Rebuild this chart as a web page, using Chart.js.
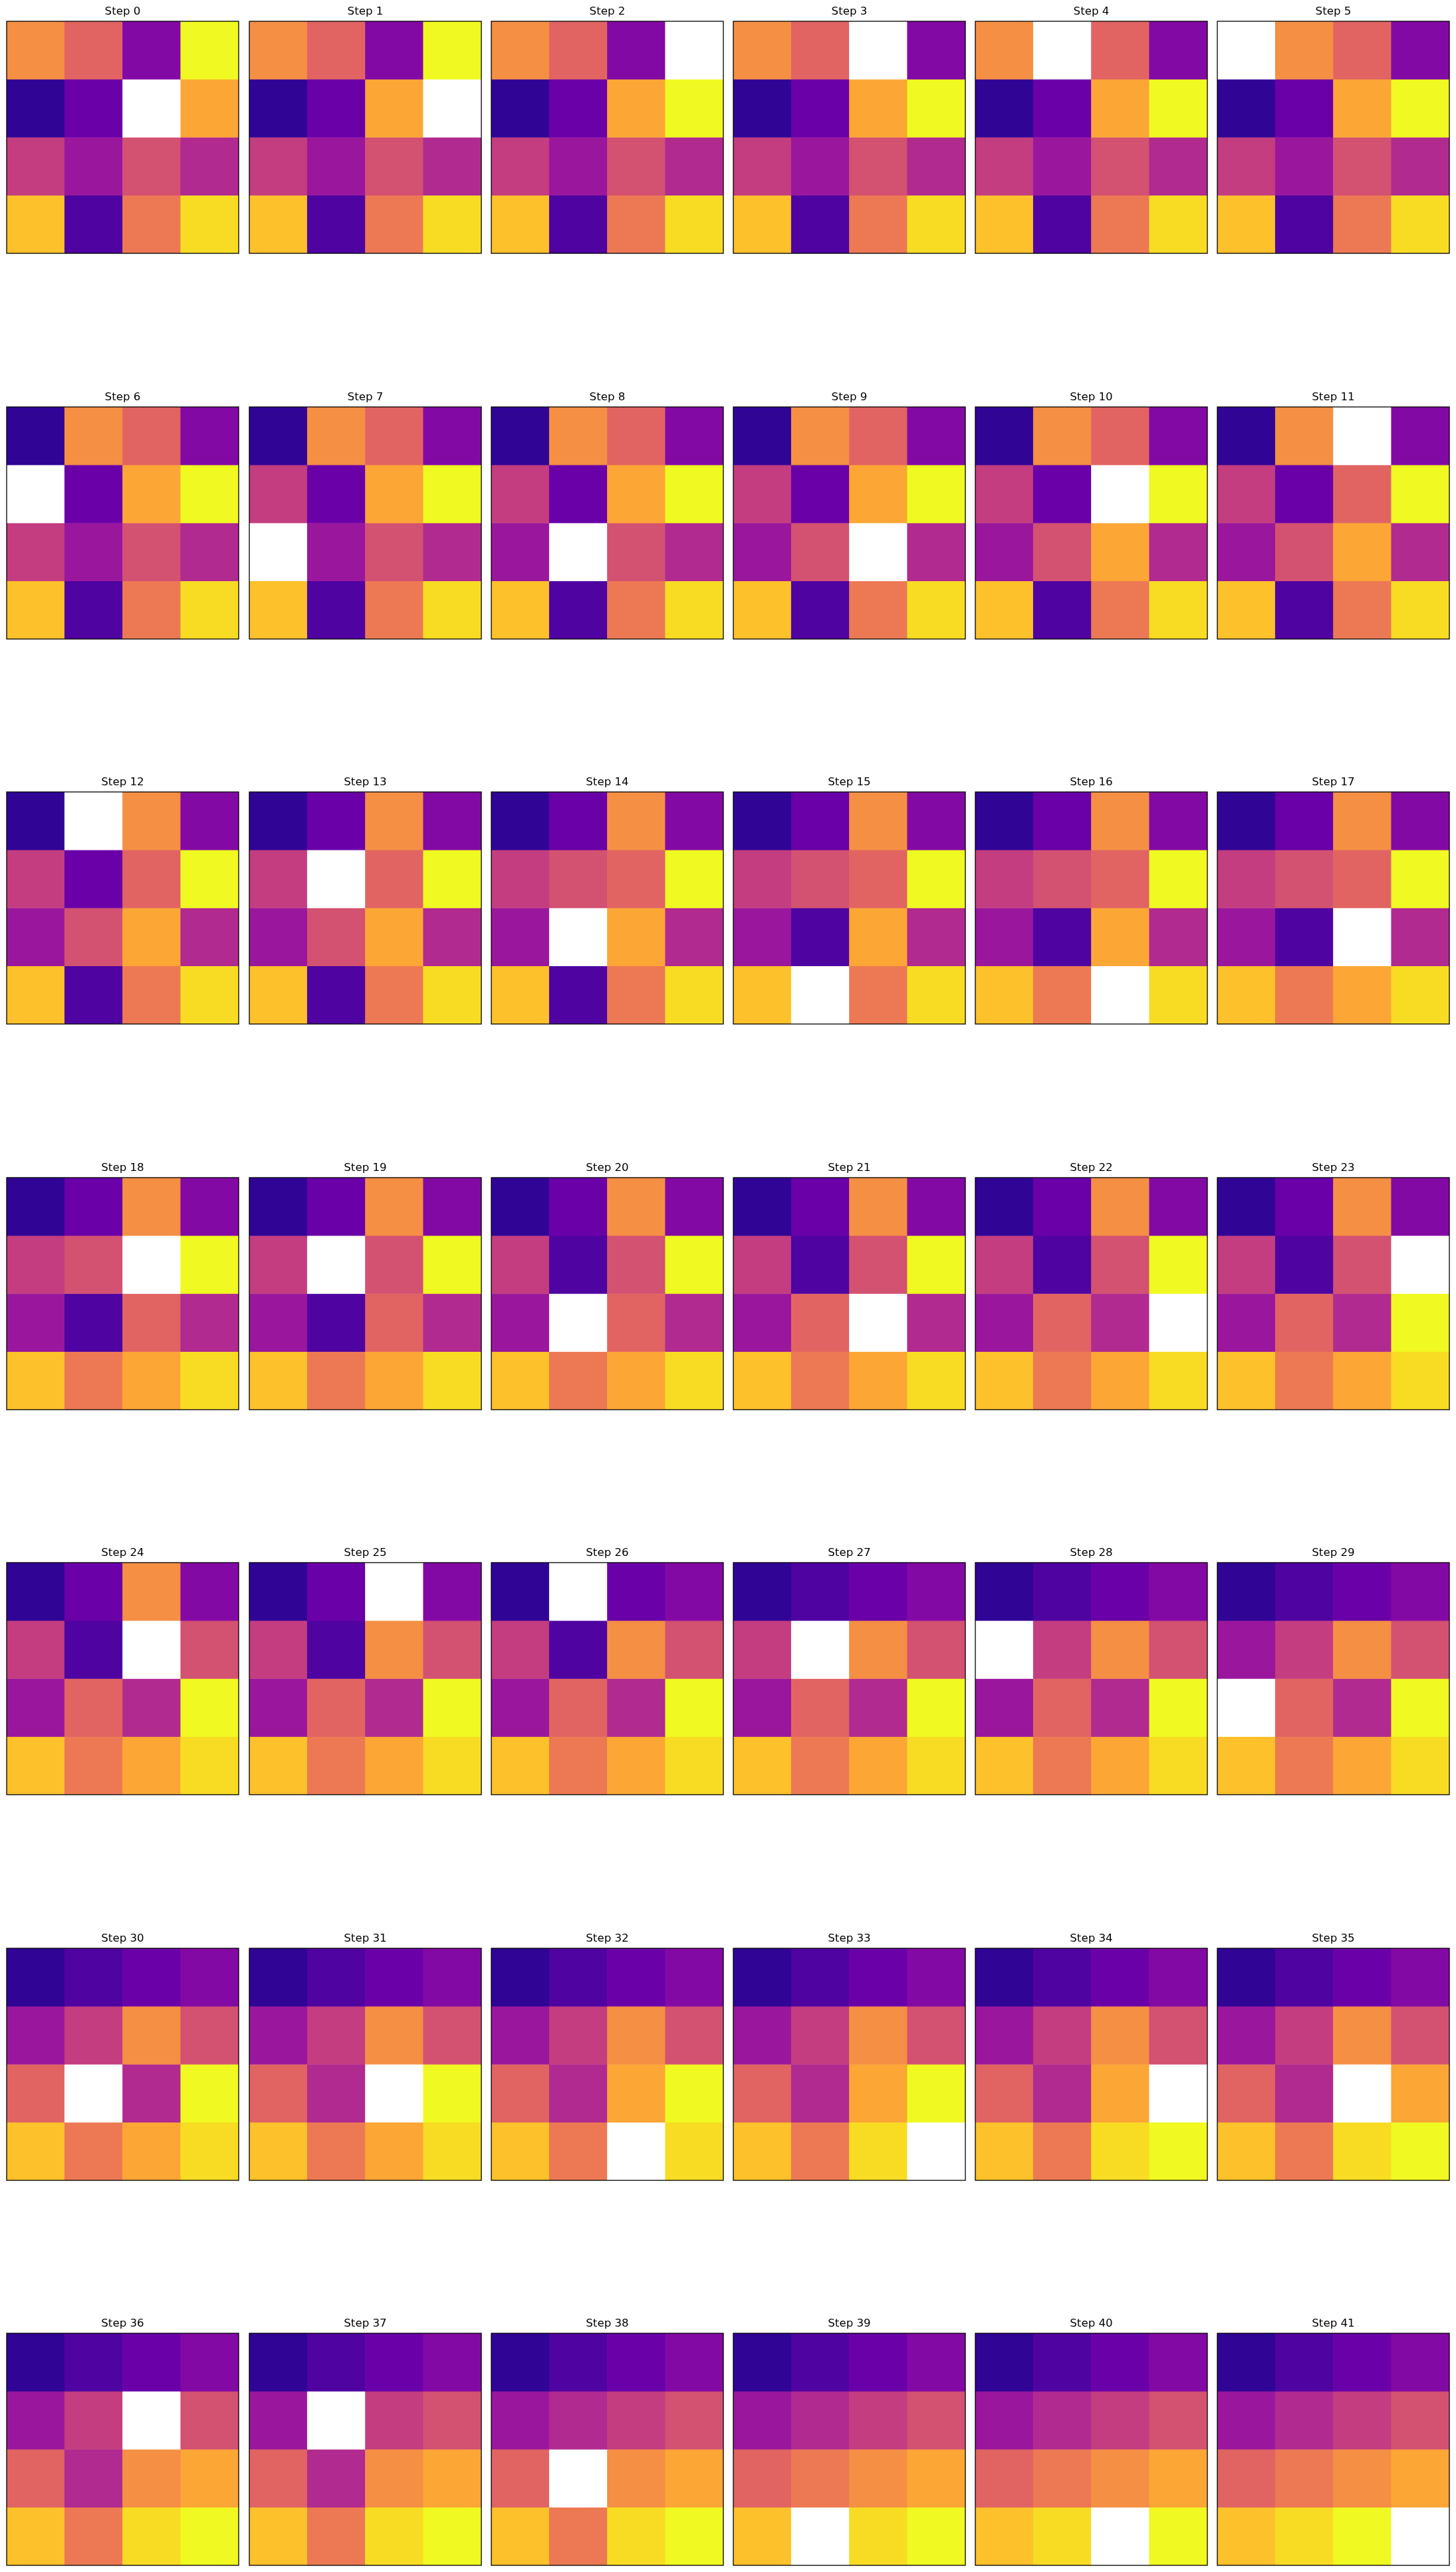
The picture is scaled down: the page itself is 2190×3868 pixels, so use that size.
<!DOCTYPE html>
<html>
<head>
<meta charset="utf-8">
<script src="https://cdn.jsdelivr.net/npm/chart.js@4.4.1/dist/chart.umd.min.js"></script>
<style>
  html, body { margin: 0; padding: 0; background: #ffffff; }
  #page { position: relative; width: 2190px; height: 3868px; background: #ffffff; overflow: hidden; }
  canvas { position: absolute; }
</style>
</head>
<body>
<div id="page"></div>
<script>
// ---- data: board state (row-major, 0 = blank) at each step ----
const stepLabels = Array.from({length: 42}, (_, i) => 'Step ' + i);
const colLabels = ['0', '1', '2', '3'];
const rowIndex = [0, 1, 2, 3];
const boards = [
  [11,9,4,15, 1,3,0,12, 7,5,8,6, 13,2,10,14],
  [11,9,4,15, 1,3,12,0, 7,5,8,6, 13,2,10,14],
  [11,9,4,0, 1,3,12,15, 7,5,8,6, 13,2,10,14],
  [11,9,0,4, 1,3,12,15, 7,5,8,6, 13,2,10,14],
  [11,0,9,4, 1,3,12,15, 7,5,8,6, 13,2,10,14],
  [0,11,9,4, 1,3,12,15, 7,5,8,6, 13,2,10,14],
  [1,11,9,4, 0,3,12,15, 7,5,8,6, 13,2,10,14],
  [1,11,9,4, 7,3,12,15, 0,5,8,6, 13,2,10,14],
  [1,11,9,4, 7,3,12,15, 5,0,8,6, 13,2,10,14],
  [1,11,9,4, 7,3,12,15, 5,8,0,6, 13,2,10,14],
  [1,11,9,4, 7,3,0,15, 5,8,12,6, 13,2,10,14],
  [1,11,0,4, 7,3,9,15, 5,8,12,6, 13,2,10,14],
  [1,0,11,4, 7,3,9,15, 5,8,12,6, 13,2,10,14],
  [1,3,11,4, 7,0,9,15, 5,8,12,6, 13,2,10,14],
  [1,3,11,4, 7,8,9,15, 5,0,12,6, 13,2,10,14],
  [1,3,11,4, 7,8,9,15, 5,2,12,6, 13,0,10,14],
  [1,3,11,4, 7,8,9,15, 5,2,12,6, 13,10,0,14],
  [1,3,11,4, 7,8,9,15, 5,2,0,6, 13,10,12,14],
  [1,3,11,4, 7,8,0,15, 5,2,9,6, 13,10,12,14],
  [1,3,11,4, 7,0,8,15, 5,2,9,6, 13,10,12,14],
  [1,3,11,4, 7,2,8,15, 5,0,9,6, 13,10,12,14],
  [1,3,11,4, 7,2,8,15, 5,9,0,6, 13,10,12,14],
  [1,3,11,4, 7,2,8,15, 5,9,6,0, 13,10,12,14],
  [1,3,11,4, 7,2,8,0, 5,9,6,15, 13,10,12,14],
  [1,3,11,4, 7,2,0,8, 5,9,6,15, 13,10,12,14],
  [1,3,0,4, 7,2,11,8, 5,9,6,15, 13,10,12,14],
  [1,0,3,4, 7,2,11,8, 5,9,6,15, 13,10,12,14],
  [1,2,3,4, 7,0,11,8, 5,9,6,15, 13,10,12,14],
  [1,2,3,4, 0,7,11,8, 5,9,6,15, 13,10,12,14],
  [1,2,3,4, 5,7,11,8, 0,9,6,15, 13,10,12,14],
  [1,2,3,4, 5,7,11,8, 9,0,6,15, 13,10,12,14],
  [1,2,3,4, 5,7,11,8, 9,6,0,15, 13,10,12,14],
  [1,2,3,4, 5,7,11,8, 9,6,12,15, 13,10,0,14],
  [1,2,3,4, 5,7,11,8, 9,6,12,15, 13,10,14,0],
  [1,2,3,4, 5,7,11,8, 9,6,12,0, 13,10,14,15],
  [1,2,3,4, 5,7,11,8, 9,6,0,12, 13,10,14,15],
  [1,2,3,4, 5,7,0,8, 9,6,11,12, 13,10,14,15],
  [1,2,3,4, 5,0,7,8, 9,6,11,12, 13,10,14,15],
  [1,2,3,4, 5,6,7,8, 9,0,11,12, 13,10,14,15],
  [1,2,3,4, 5,6,7,8, 9,10,11,12, 13,0,14,15],
  [1,2,3,4, 5,6,7,8, 9,10,11,12, 13,14,0,15],
  [1,2,3,4, 5,6,7,8, 9,10,11,12, 13,14,15,0]
];

// ---- style: plasma colormap anchors (0..1 in steps of 0.1), value range 0..15 ----
const plasmaStops = ['#0d0887','#41049d','#6a00a8','#8f0da4','#b12a90','#cc4778',
                     '#e16462','#f2844b','#fca636','#fcce25','#f0f921'];
const vMax = 15;
function hexToRgb(h) { return [1,3,5].map(i => parseInt(h.substr(i, 2), 16)); }
function tileColor(v) {
  if (v === 0) return '#ffffff';
  const t = Math.min(1, Math.max(0, v / vMax)) * (plasmaStops.length - 1);
  const i = Math.min(Math.floor(t), plasmaStops.length - 2);
  const f = t - i;
  const a = hexToRgb(plasmaStops[i]), b = hexToRgb(plasmaStops[i + 1]);
  const c = a.map((x, k) => Math.round(x + (b[k] - x) * f));
  return 'rgb(' + c.join(',') + ')';
}

const framePlugin = {
  id: 'frame',
  afterDatasetsDraw(chart) {
    const {ctx, chartArea: a} = chart;
    ctx.save();
    ctx.strokeStyle = '#000000';
    ctx.lineWidth = 1.3;
    ctx.strokeRect(a.left, a.top, a.right - a.left, a.bottom - a.top);
    ctx.restore();
  }
};

const page = document.getElementById('page');
const nCols = 6;
const panelX0 = 10.3, panelDX = 364.2, panelY0 = 32.3, panelDY = 579.5, panelSize = 349;
const padSide = 5, titleTop = 6, titleBottom = 4, titleSize = 16.67;
const titleH = titleTop + titleSize * 1.2 + titleBottom;

boards.forEach((board, idx) => {
  const r = Math.floor(idx / nCols), c = idx % nCols;
  const cv = document.createElement('canvas');
  const w = panelSize + 2 * padSide;
  const h = Math.round(titleH + panelSize + padSide);
  cv.width = w; cv.height = h;
  cv.style.width = w + 'px'; cv.style.height = h + 'px';
  cv.style.left = Math.round(panelX0 + c * panelDX - padSide) + 'px';
  cv.style.top = Math.round(panelY0 + r * panelDY - titleH) + 'px';
  page.appendChild(cv);

  new Chart(cv, {
    type: 'bar',
    data: {
      labels: colLabels,
      datasets: rowIndex.map(row => ({
        data: colLabels.map((_, col) => [row, row + 1]),
        backgroundColor: colLabels.map((_, col) => tileColor(board[row * 4 + col])),
        borderWidth: 0,
        grouped: false,
        barPercentage: 1,
        categoryPercentage: 1
      }))
    },
    options: {
      responsive: false,
      animation: false,
      devicePixelRatio: 1,
      events: [],
      layout: { padding: { left: padSide, right: padSide, top: 0, bottom: h - titleH - panelSize } },
      plugins: {
        legend: { display: false },
        tooltip: { enabled: false },
        title: {
          display: true,
          text: stepLabels[idx],
          color: '#000000',
          font: { family: 'DejaVu Sans', size: titleSize, weight: 'normal', lineHeight: 1.2 },
          padding: { top: titleTop, bottom: titleBottom }
        }
      },
      scales: {
        x: { display: false },
        y: { display: false, min: 0, max: 4, reverse: true }
      }
    },
    plugins: [framePlugin]
  });
});
</script>
</body>
</html>
